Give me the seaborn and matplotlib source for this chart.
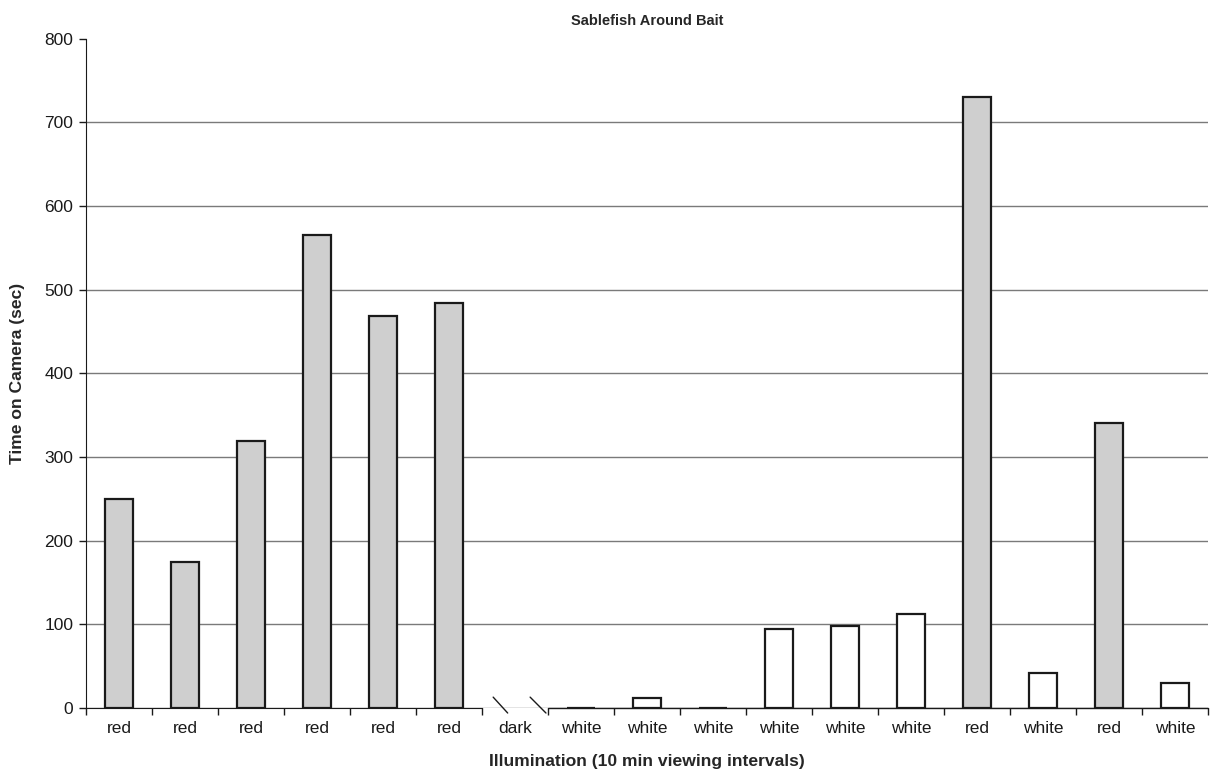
import numpy as np
import pandas as pd
import matplotlib
matplotlib.use("Agg")
import matplotlib.pyplot as plt
import seaborn as sns

# Illumination for each 10-minute viewing interval
lights = ["red", "red", "red", "red", "red", "red", "dark", "white", "white",
          "white", "white", "white", "white", "red", "white", "red", "white"]
# Time on camera (sec); the dark interval has no bar (axis break)
seconds = [250, 175, 319, 566, 469, 484, np.nan, 0, 12,
           0, 94, 98, 112, 731, 42, 341, 30]
fill_colors = {"red": "#cfcfcf", "white": "#ffffff", "dark": "#ffffff"}

df = pd.DataFrame({"slot": range(len(lights)), "light": lights, "sec": seconds})

sns.set_style("white")
plt.rcParams["font.family"] = ["Liberation Sans", "DejaVu Sans"]

fig = plt.figure(figsize=(12.14, 7.77), dpi=100)
ax = fig.add_axes([0.0708, 0.0888, 0.9242, 0.8612])

sns.barplot(data=df, x="slot", y="sec", hue="light", palette=fill_colors,
            dodge=False, width=0.42, edgecolor="#1a1a1a", linewidth=1.6,
            legend=False, ax=ax, zorder=3)

ax.set_xlim(-0.5, len(lights) - 0.5)
ax.set_ylim(0, 800)
ax.set_yticks(range(0, 801, 100))
ax.yaxis.grid(True, color="#7a7a7a", linewidth=1, zorder=0)
ax.set_axisbelow(True)
# no gridline along the top of the plot
ax.yaxis.get_gridlines()[-1].set_visible(False)

# labels at centres, ticks at boundaries
ax.set_xticks(range(len(lights)))
ax.set_xticklabels(lights)
ax.set_xticks(np.arange(-0.5, len(lights)), minor=True)
ax.tick_params(axis="x", which="major", length=0, pad=9, labelsize=12.5, colors="#1a1a1a")
ax.tick_params(axis="x", which="minor", bottom=True, length=5, width=1, direction="out", color="#1a1a1a")
ax.tick_params(axis="y", length=5, width=1, direction="out", left=True, labelsize=12.5,
               color="#1a1a1a", labelcolor="#1a1a1a", pad=4)

for s in ["top", "right"]:
    ax.spines[s].set_visible(False)
ax.spines["left"].set_color("#1a1a1a")
ax.spines["bottom"].set_color("#1a1a1a")
# broken x axis at the dark interval
ax.spines["bottom"].set_bounds(-0.5, 5.5)
ax.plot([6.5, len(lights) - 0.5], [0, 0], color="#1a1a1a", linewidth=1, clip_on=False, zorder=4)
ax.plot([5.67, 5.89], [13, -6], color="#1a1a1a", linewidth=1, clip_on=False)
ax.plot([6.23, 6.47], [13, -6], color="#1a1a1a", linewidth=1, clip_on=False)

ax.set_xlabel("Illumination (10 min viewing intervals)", fontsize=12.6, fontweight="bold", labelpad=13)
ax.set_ylabel("Time on Camera (sec)", fontsize=12.6, fontweight="bold", labelpad=14)
ax.set_title("Sablefish Around Bait", fontsize=10.5, fontweight="bold", pad=10)

fig.savefig("out.png", dpi=100)
